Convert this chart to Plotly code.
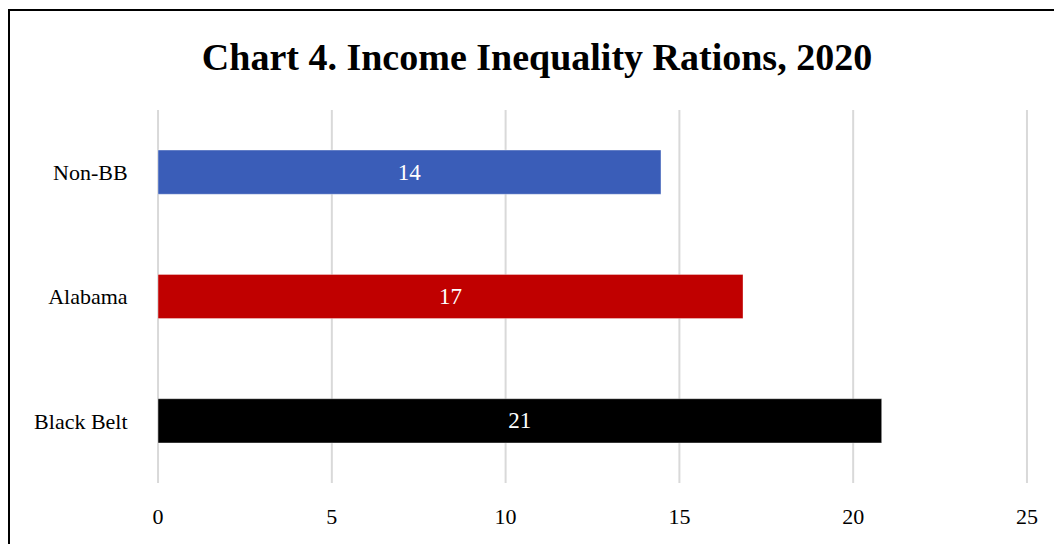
import plotly.graph_objects as go

categories = ["Black Belt", "Alabama", "Non-BB"]
values = [20.82, 16.83, 14.47]
colors = ["#000000", "#C00000", "#3A5DB8"]
x_ticks = [0, 5, 10, 15, 20, 25]

W, H = 1054, 544
L, R, T, B = 157, 26, 110, 61
pw, ph = W - L - R, H - T - B
XR = [-0.03, 25.03]

def px_x(p):
    return (p - L) / pw

def px_y(p):
    return (H - B - p) / ph

FONT = "Liberation Serif"

fig = go.Figure(go.Bar(
    y=categories, x=values, orientation="h",
    marker=dict(color=colors, line=dict(color="rgba(255,255,255,0.35)", width=1)),
    width=0.355,
    texttemplate="%{x:.0f}", textposition="inside", insidetextanchor="middle",
    textfont=dict(color="white", size=23, family=FONT),
    hoverinfo="skip",
))

grid_shapes = [dict(type="line", xref="x", yref="paper", x0=t, x1=t, y0=0, y1=1,
                    line=dict(color="#D9D9D9", width=2), layer="below")
               for t in x_ticks]

fig.update_layout(
    width=W, height=H,
    margin=dict(l=L, r=R, t=T, b=B),
    paper_bgcolor="white", plot_bgcolor="white",
    showlegend=False,
    title=dict(text="<b>Chart 4. Income Inequality Rations, 2020</b>",
               x=537 / W, xanchor="center", y=1 - 57 / H, yanchor="middle",
               yref="container", font=dict(family=FONT, size=38, color="black")),
    xaxis=dict(range=XR, tickvals=x_ticks, showgrid=False,
               zeroline=False, showline=False,
               ticks="outside", ticklen=14, tickcolor="rgba(0,0,0,0)",
               tickfont=dict(family=FONT, size=22, color="black")),
    yaxis=dict(showgrid=False, zeroline=False, showline=False,
               ticks="outside", ticklen=24, tickcolor="rgba(0,0,0,0)",
               tickfont=dict(family=FONT, size=22, color="black")),
    shapes=grid_shapes + [dict(type="rect", xref="paper", yref="paper",
                 x0=px_x(9), x1=px_x(1070), y0=px_y(560), y1=px_y(10),
                 line=dict(color="black", width=2), layer="above")],
)

fig.write_html("out.html")
